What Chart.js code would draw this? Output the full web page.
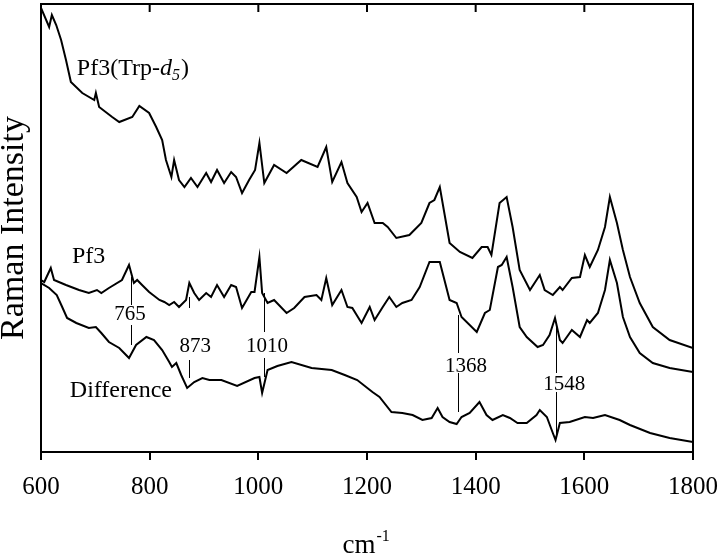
<!DOCTYPE html>
<html>
<head>
<meta charset="utf-8">
<script src="https://cdn.jsdelivr.net/npm/chart.js@4"></script>
<style>
  html, body { margin: 0; padding: 0; background: #fff; }
</style>
</head>
<body>
<canvas id="ramanChart" width="720" height="559"></canvas>
<script>
const SERIF = "'Liberation Serif', 'Times New Roman', serif";

const xTicks = [600, 800, 1000, 1200, 1400, 1600, 1800];

// Pf3(Trp-d5) spectrum
const trpWn = [600, 615, 620, 628, 637, 646, 655, 676, 698, 701, 707, 731, 744, 768, 781, 799, 812, 823, 830, 840,
  845, 854, 864, 876, 888, 904, 913, 924, 937, 950, 959, 970, 983, 994, 1002, 1011, 1029, 1052, 1079, 1109,
  1125, 1136, 1153, 1164, 1181, 1190, 1201, 1214, 1229, 1238, 1254, 1278, 1300, 1315, 1324, 1334, 1343, 1352, 1371, 1394,
  1411, 1422, 1429, 1444, 1457, 1468, 1481, 1500, 1518, 1527, 1542, 1555, 1560, 1577, 1592, 1601, 1610, 1625, 1638, 1647,
  1660, 1671, 1684, 1702, 1726, 1757, 1800];
const trpInt = [443, 424, 436, 426, 411, 391, 369, 358, 351, 358, 344, 334, 329, 334, 345, 338, 324, 311, 291, 274,
  291, 271, 264, 273, 264, 278, 269, 281, 268, 279, 274, 258, 271, 281, 308, 268, 286, 278, 291, 284,
  304, 269, 289, 268, 254, 239, 248, 228, 228, 224, 213, 216, 228, 248, 251, 264, 236, 208, 199, 193,
  204, 204, 196, 248, 254, 224, 181, 161, 176, 161, 156, 164, 161, 173, 174, 196, 184, 201, 224, 254,
  228, 201, 174, 148, 124, 111, 103];

// Pf3 spectrum
const pf3Wn = [600, 606, 618, 624, 646, 670, 688, 703, 711, 725, 749, 762, 771, 777, 786, 799, 818, 827, 836, 845,
  854, 867, 873, 882, 891, 904, 913, 924, 937, 950, 959, 970, 987, 993, 1002, 1007, 1017, 1029, 1052, 1066,
  1085, 1107, 1116, 1125, 1136, 1153, 1164, 1173, 1190, 1205, 1214, 1229, 1241, 1254, 1265, 1282, 1297, 1315, 1334, 1352,
  1365, 1374, 1402, 1417, 1426, 1441, 1448, 1457, 1468, 1481, 1494, 1514, 1524, 1536, 1546, 1555, 1560, 1577, 1592, 1605,
  1610, 1625, 1638, 1647, 1660, 1671, 1684, 1702, 1726, 1757, 1800];
const pf3Int = [171, 169, 183, 171, 166, 161, 158, 161, 158, 163, 171, 186, 168, 171, 166, 159, 151, 149, 146, 149,
  144, 151, 168, 158, 151, 158, 154, 166, 154, 166, 164, 143, 159, 159, 194, 158, 148, 151, 138, 143,
  154, 156, 151, 173, 146, 161, 144, 143, 128, 144, 131, 144, 154, 144, 148, 151, 164, 189, 189, 151,
  148, 134, 119, 138, 141, 184, 186, 194, 164, 124, 114, 104, 106, 116, 133, 111, 108, 121, 114, 131,
  128, 138, 161, 191, 168, 134, 114, 98, 88, 83, 79];

// Difference spectrum
const diffWn = [600, 615, 629, 639, 648, 665, 688, 701, 711, 725, 744, 762, 775, 794, 808, 823, 836, 841, 849, 858,
  869, 882, 897, 910, 932, 961, 993, 1002, 1007, 1017, 1035, 1061, 1098, 1135, 1159, 1182, 1210, 1223, 1245, 1265,
  1284, 1302, 1319, 1330, 1339, 1352, 1365, 1374, 1389, 1407, 1420, 1431, 1450, 1463, 1477, 1494, 1512, 1518, 1531, 1542,
  1547, 1555, 1573, 1601, 1616, 1638, 1665, 1684, 1721, 1757, 1800];
const diffInt = [168, 163, 156, 144, 133, 128, 123, 124, 118, 109, 103, 93, 106, 114, 111, 101, 89, 84, 88, 76,
  63, 69, 73, 71, 71, 65, 73, 74, 58, 81, 85, 89, 83, 81, 76, 71, 59, 54, 39, 38,
  36, 31, 33, 43, 34, 29, 27, 34, 38, 49, 36, 31, 36, 33, 28, 28, 36, 41, 34, 18,
  11, 28, 29, 34, 33, 36, 31, 26, 18, 13, 9];

// peak markers (wavenumber, label, and the intensity spans of the two tick segments)
const peakWn = [765, 873, 1010, 1368, 1548];
const peakText = ['765', '873', '1010', '1368', '1548'];
const peakTextWn = [764, 884, 1016, 1382, 1563];
const peakTextY = [131, 99, 99, 79, 61];
const peakUpper = [[174, 146], [154, 143], [158, 119], [136, 98], [124, 78]];
const peakLower = [[126, 106], [91, 73], [93, 74], [78, 39], [59, 16]];

// curve names
const nameWn = [666, 657, 653];
const nameY = [376, 188, 54];

function toPoints(xs, ys) {
  return xs.map((v, i) => ({ x: v, y: ys[i] }));
}

function lineSet(label, xs, ys) {
  return {
    label: label,
    data: toPoints(xs, ys),
    borderColor: '#000',
    borderWidth: 2,
    pointRadius: 0,
    tension: 0,
    fill: false
  };
}

const annotate = {
  id: 'annotate',
  afterDraw(chart) {
    const c = chart.ctx;
    const x = chart.scales.x;
    const y = chart.scales.y;
    const left = x.getPixelForValue(600);
    const right = x.getPixelForValue(1800);
    const top = y.getPixelForValue(447);
    const bottom = y.getPixelForValue(-1);
    c.save();
    c.fillStyle = '#000000';

    // top and right sides of the frame, inward ticks along the top
    c.fillRect(left - 1, top - 1, right - left + 2, 2);
    c.fillRect(right - 1, top - 1, 2, bottom - top + 2);
    for (const v of xTicks) {
      c.fillRect(x.getPixelForValue(v) - 1, top, 2, 8);
    }

    // peak marker lines
    c.strokeStyle = '#000000';
    c.lineWidth = 1;
    c.beginPath();
    peakWn.forEach((w, i) => {
      const px = Math.round(x.getPixelForValue(w)) + 0.5;
      [peakUpper[i], peakLower[i]].forEach(seg => {
        c.moveTo(px, y.getPixelForValue(seg[0]));
        c.lineTo(px, y.getPixelForValue(seg[1]));
      });
    });
    c.stroke();

    // peak numbers
    c.font = '21px ' + SERIF;
    c.textAlign = 'center';
    c.textBaseline = 'alphabetic';
    peakText.forEach((t, i) => {
      c.fillText(t, x.getPixelForValue(peakTextWn[i]), y.getPixelForValue(peakTextY[i]));
    });

    // curve names
    c.textAlign = 'left';
    let px = x.getPixelForValue(nameWn[0]);
    const py = y.getPixelForValue(nameY[0]);
    c.font = '24px ' + SERIF;
    c.fillText('Pf3(Trp-', px, py);
    px += c.measureText('Pf3(Trp-').width;
    c.font = 'italic 24px ' + SERIF;
    c.fillText('d', px, py);
    px += c.measureText('d').width;
    c.font = 'italic 16px ' + SERIF;
    c.fillText('5', px, py + 5);
    px += c.measureText('5').width + 1;
    c.font = '24px ' + SERIF;
    c.fillText(')', px, py);

    c.fillText('Pf3', x.getPixelForValue(nameWn[1]), y.getPixelForValue(nameY[1]));
    c.fillText('Difference', x.getPixelForValue(nameWn[2]), y.getPixelForValue(nameY[2]));

    // x axis title with superscript
    c.font = '27px ' + SERIF;
    const cmW = c.measureText('cm').width;
    const cx = (left + right) / 2 - 8;
    c.fillText('cm', cx - cmW / 2, 553);
    c.font = '16px ' + SERIF;
    c.fillText('-1', cx + cmW / 2 + 1, 541);

    c.restore();
  }
};

const chart = new Chart(document.getElementById('ramanChart'), {
  type: 'line',
  data: {
    datasets: [
      lineSet('Pf3(Trp-d5)', trpWn, trpInt),
      lineSet('Pf3', pf3Wn, pf3Int),
      lineSet('Difference', diffWn, diffInt)
    ]
  },
  options: {
    responsive: false,
    animation: false,
    layout: { padding: { top: 4, right: 27, left: 0, bottom: 0 } },
    plugins: {
      legend: { display: false },
      tooltip: { enabled: false }
    },
    scales: {
      x: {
        type: 'linear',
        min: 600,
        max: 1800,
        afterFit: s => { s.height = 107; s.paddingLeft = 0; s.paddingRight = 0; },
        afterBuildTicks: s => { s.ticks = xTicks.map(v => ({ value: v })); },
        ticks: {
          autoSkip: false,
          maxRotation: 0,
          padding: 12,
          color: '#000',
          font: { family: SERIF, size: 25 },
          callback: v => String(v)
        },
        grid: {
          drawOnChartArea: false,
          drawTicks: true,
          tickLength: 8,
          color: '#000',
          lineWidth: 2
        },
        border: { display: true, color: '#000', width: 2 }
      },
      y: {
        min: -1,
        max: 447,
        afterFit: s => { s.width = 41; s.paddingTop = 0; s.paddingBottom = 0; },
        ticks: { display: false },
        grid: { display: false, drawTicks: false },
        border: { display: true, color: '#000', width: 2 },
        title: {
          display: true,
          text: 'Raman Intensity',
          color: '#000',
          padding: 0,
          font: { family: SERIF, size: 34, lineHeight: 0.8 }
        }
      }
    }
  },
  plugins: [annotate]
});
</script>
</body>
</html>
